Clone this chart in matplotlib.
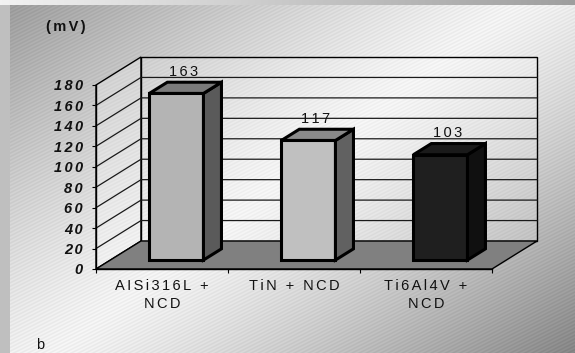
import numpy as np
import matplotlib
matplotlib.use("Agg")
import matplotlib.pyplot as plt
from matplotlib.patches import Polygon

plt.rcParams['font.family'] = ['Liberation Sans', 'DejaVu Sans']

# Data
categories = ["AISi316L +\nNCD", "TiN + NCD", "Ti6Al4V +\nNCD"]
values = [163, 117, 103]
y_ticks = [0, 20, 40, 60, 80, 100, 120, 140, 160, 180]
unit_label = "(mV)"
panel_label = "b"

# Bar face colours: front, top, side
front_cols = ["#b4b4b4", "#c0c0c0", "#1f1f1f"]
top_cols = ["#7b7b7b", "#8a8a8a", "#1a1a1a"]
side_cols = ["#5a5a5a", "#616161", "#101010"]

W, H = 575, 353
fig = plt.figure(figsize=(W / 100, H / 100), dpi=100)

GAP = "\u2006"


def spaced(s):
    # wide tracking between letters
    return "\n".join(GAP.join(line) for line in s.split("\n"))


# ---- textured gradient background ----
bg = fig.add_axes([0, 0, 1, 1])
yy, xx = np.mgrid[0:H, 0:W].astype(float)
t = xx / W * 0.55 + yy / H * 0.45
d = (t - 0.5) / 0.5
dark = np.where(d < 0, 0.60, 0.52)
v = 0.95 - (0.95 - dark) * np.abs(d) ** 1.25
v = v + 0.022 * np.sin(2 * np.pi * (0.5 * xx + yy) / 3.6)
v[:, :10] = 0.75
top = np.linspace(0.95, 0.62, W)
v[:5, :] = top[None, :]
v = np.clip(v, 0, 1)
bg.imshow(np.dstack([v, v, v]), extent=[0, W, H, 0], aspect="auto", interpolation="bilinear")
bg.set_axis_off()

# ---- main chart axes (front plane) ----
ax = fig.add_axes([96 / W, (H - 269) / H, 396 / W, 184 / H])
ax.set_facecolor("none")
ax.set_xlim(-0.5, len(categories) - 0.5)
ax.set_ylim(0, 180)

# depth offset of the back wall, in data units
DX = 45 / 132
DY = 28 / (184 / 180)
F0, F1 = 0.32, 0.72  # bar depth range
BW = 0.41


def P(x, val, f):
    return (x + f * DX, val + f * DY)


x0, x1 = -0.5, len(categories) - 0.5
ymax = y_ticks[-1]

# walls
left_wall = Polygon([P(x0, 0, 0), P(x0, 0, 1), P(x0, ymax, 1), P(x0, ymax, 0)],
                    closed=True, facecolor=(1, 1, 1, 0.25), edgecolor="black",
                    linewidth=1, clip_on=False, zorder=1)
back_wall = Polygon([P(x0, 0, 1), P(x1, 0, 1), P(x1, ymax, 1), P(x0, ymax, 1)],
                    closed=True, facecolor=(1, 1, 1, 0.18), edgecolor="black",
                    linewidth=1, clip_on=False, zorder=1)
ax.add_patch(left_wall)
ax.add_patch(back_wall)

# gridlines on walls
for tv in y_ticks[1:-1]:
    a, b, c = P(x0, tv, 0), P(x0, tv, 1), P(x1, tv, 1)
    ax.plot([a[0], b[0], c[0]], [a[1], b[1], c[1]], color="#1a1a1a",
            linewidth=0.9, clip_on=False, zorder=2)

# floor
floor = Polygon([P(x0, 0, 0), P(x1, 0, 0), P(x1, 0, 1), P(x0, 0, 1)],
                closed=True, facecolor="#808080", edgecolor="black",
                linewidth=1, clip_on=False, zorder=3)
ax.add_patch(floor)

# bars
for i, (val, fc, tc, sc) in enumerate(zip(values, front_cols, top_cols, side_cols)):
    l, r = i - BW / 2, i + BW / 2
    faces = [
        ([P(l, 0, F0), P(r, 0, F0), P(r, val, F0), P(l, val, F0)], fc),
        ([P(r, 0, F0), P(r, 0, F1), P(r, val, F1), P(r, val, F0)], sc),
        ([P(l, val, F0), P(r, val, F0), P(r, val, F1), P(l, val, F1)], tc),
    ]
    for pts, col in faces:
        ax.add_patch(Polygon(pts, closed=True, facecolor=col, edgecolor="black",
                             linewidth=2.2, joinstyle="miter", clip_on=False, zorder=5))
    lx, _ = P(i, val, 0.47)
    _, ly = P(i, val, F1)
    ax.annotate(spaced(str(val)), (lx, ly), xytext=(0, 2.5), textcoords="offset points",
                ha="center", va="bottom", fontsize=10.5, color="#111111",
                annotation_clip=False, zorder=6)

# axes decoration
for s in ["top", "right"]:
    ax.spines[s].set_visible(False)
ax.spines["left"].set_linewidth(1)
ax.spines["bottom"].set_linewidth(1)
ax.spines["left"].set_zorder(4)
ax.spines["bottom"].set_zorder(4)

ax.set_yticks(y_ticks, labels=[spaced(str(t)) for t in y_ticks])
ax.tick_params(axis="y", direction="out", length=3, width=0.8, pad=6.5)
for lab in ax.get_yticklabels():
    lab.set_fontweight("bold")
    lab.set_fontstyle("italic")
    lab.set_fontsize(10.5)
    lab.set_color("#111111")

ax.set_xticks(np.arange(len(categories) + 1) - 0.5, labels=[""] * (len(categories) + 1))
ax.tick_params(axis="x", which="major", direction="out", length=3, width=0.8)
ax.set_xticks(np.arange(len(categories)), labels=[spaced(c) for c in categories], minor=True)
ax.tick_params(axis="x", which="minor", length=0, pad=7.5)
for lab in ax.get_xticklabels(minor=True):
    lab.set_fontsize(10.5)
    lab.set_multialignment("center")
    lab.set_linespacing(1.3)
    lab.set_color("#111111")

fig.text(65.5 / W, 1 - 27.5 / H, spaced(unit_label), ha="center", va="center",
         fontsize=10.5, fontweight="bold", color="#111111")
fig.text(40 / W, 1 - 345 / H, panel_label, ha="center", va="center",
         fontsize=10.5, color="#111111")

fig.savefig("out.png", dpi=100)
